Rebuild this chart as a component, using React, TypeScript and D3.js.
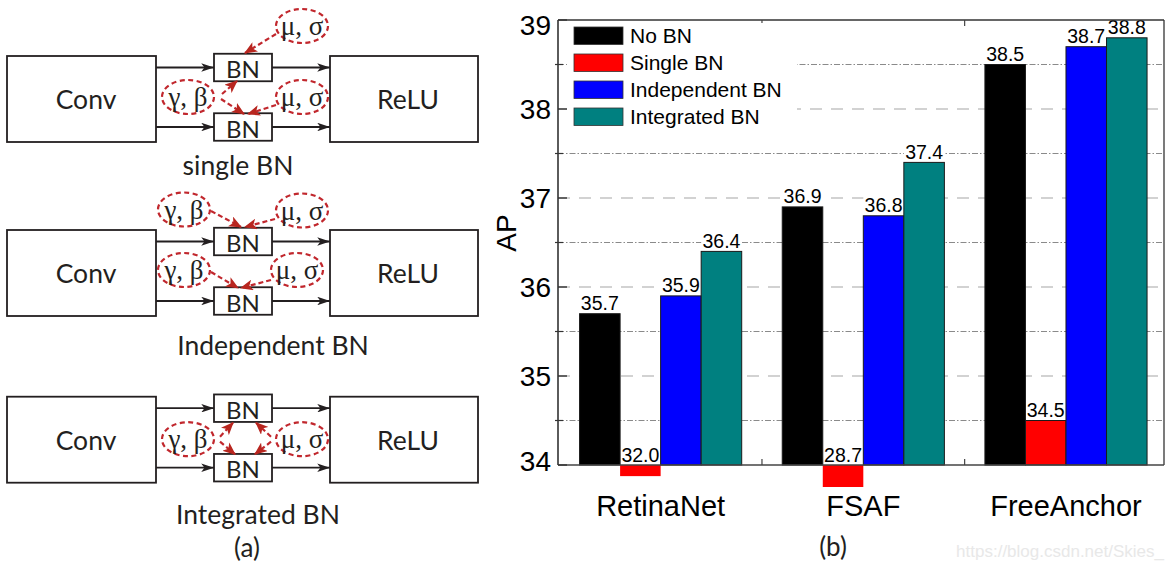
import React from "react";
import * as d3 from "d3";

// ---------------- Data (panel b) ----------------
const categories = ["RetinaNet", "FSAF", "FreeAnchor"];
const seriesNames = ["No BN", "Single BN", "Independent BN", "Integrated BN"];
const noBN = [35.7, 36.9, 38.5];
const singleBN = [32.0, 28.7, 34.5];
const independentBN = [35.9, 36.8, 38.7];
const integratedBN = [36.4, 37.4, 38.8];
const yMajorTicks = [34, 35, 36, 37, 38, 39];
const yMinorTicks = [34.5, 35.5, 36.5, 37.5, 38.5];
const seriesColors = ["#000000", "#ff0000", "#0000ff", "#008080"];
const watermark = "https://blog.csdn.net/Skies_";

// ---------------- Diagram text (panel a) ----------------
const panelCaptions = ["single BN", "Independent BN", "Integrated BN"];

const RED = "#c1272d";
const RED_HEAD = "#b8261f";
const INK = "#231f20";
const SANS = "Liberation Sans, Arial, sans-serif";
const DSANS = "Lato, 'Open Sans', sans-serif";
const SERIF = "'Liberation Serif', 'DejaVu Serif', serif";

function DashEllipse({ cx, cy, label }: { cx: number; cy: number; label: string }) {
  return (
    <g>
      <ellipse cx={cx} cy={cy} rx={26} ry={17} fill="none" stroke={RED} strokeWidth={2.2} strokeDasharray="5 3.5" />
      <text x={cx} y={cy} textAnchor="middle" dominantBaseline="central" fontFamily={SERIF} fontSize={27} fill={INK}>
        {label}
      </text>
    </g>
  );
}

function RedArrow({ x1, y1, x2, y2 }: { x1: number; y1: number; x2: number; y2: number }) {
  return (
    <line x1={x1} y1={y1} x2={x2} y2={y2} stroke={RED} strokeWidth={2.2} strokeDasharray="5 3" markerEnd="url(#redHead)" />
  );
}

function BlockRow({ T }: { T: number }) {
  const yTop = T + 11.5;
  const yBot = T + 71;
  const bnX = 214;
  const bnW = 58;
  const bnH = 27.5;
  return (
    <g>
      <rect x={7} y={T} width={149} height={86} fill="#fff" stroke={INK} strokeWidth={1.8} />
      <rect x={330} y={T} width={148} height={86} fill="#fff" stroke={INK} strokeWidth={1.8} />
      <text x={86} y={T + 43} textAnchor="middle" dominantBaseline="central" fontFamily={DSANS} fontSize={26.5} fill={INK}>Conv</text>
      <text x={408} y={T + 43} textAnchor="middle" dominantBaseline="central" fontFamily={DSANS} fontSize={26.5} fill={INK}>ReLU</text>
      {[yTop, yBot].map((yy, i) => (
        <g key={i}>
          <line x1={156} y1={yy} x2={bnX} y2={yy} stroke={INK} strokeWidth={1.8} markerEnd="url(#blackHead)" />
          <line x1={bnX + bnW} y1={yy} x2={330} y2={yy} stroke={INK} strokeWidth={1.8} markerEnd="url(#blackHead)" />
          <rect x={bnX} y={yy - bnH / 2} width={bnW} height={bnH} fill="#fff" stroke={INK} strokeWidth={1.8} />
          <text x={bnX + bnW / 2} y={yy + 1} textAnchor="middle" dominantBaseline="central" fontFamily={DSANS} fontSize={24} fill={INK}>BN</text>
        </g>
      ))}
    </g>
  );
}

function DiagramA() {
  const T1 = 56, T2 = 230, T3 = 396.7;
  return (
    <g>
      {/* single BN */}
      <BlockRow T={T1} />
      <DashEllipse cx={302} cy={T1 - 30} label="μ, σ" />
      <DashEllipse cx={188} cy={T1 + 41} label="γ, β" />
      <DashEllipse cx={302} cy={T1 + 41} label="μ, σ" />
      <RedArrow x1={276} y1={T1 - 22} x2={245} y2={T1 - 3} />
      <RedArrow x1={222} y1={T1 + 38} x2={237} y2={T1 + 25} />
      <RedArrow x1={221} y1={T1 + 43} x2={244} y2={T1 + 58} />
      <RedArrow x1={276} y1={T1 + 49} x2={248} y2={T1 + 58} />
      <text x={238} y={175} textAnchor="middle" fontFamily={DSANS} fontSize={26.5} fill={INK}>{panelCaptions[0]}</text>

      {/* Independent BN */}
      <BlockRow T={T2} />
      <DashEllipse cx={184} cy={T2 - 20.5} label="γ, β" />
      <DashEllipse cx={302} cy={T2 - 19.5} label="μ, σ" />
      <DashEllipse cx={184} cy={T2 + 40} label="γ, β" />
      <DashEllipse cx={297} cy={T2 + 40} label="μ, σ" />
      <RedArrow x1={211} y1={T2 - 19} x2={241} y2={T2 - 3} />
      <RedArrow x1={275} y1={T2 - 11} x2={245} y2={T2 - 3} />
      <RedArrow x1={211} y1={T2 + 42} x2={238} y2={T2 + 58} />
      <RedArrow x1={271} y1={T2 + 50} x2={241} y2={T2 + 58} />
      <text x={273} y={355} textAnchor="middle" fontFamily={DSANS} fontSize={26.5} fill={INK}>{panelCaptions[1]}</text>

      {/* Integrated BN */}
      <BlockRow T={T3} />
      <DashEllipse cx={188} cy={T3 + 42.5} label="γ, β" />
      <DashEllipse cx={302} cy={T3 + 42.5} label="μ, σ" />
      <RedArrow x1={220} y1={T3 + 40} x2={233} y2={T3 + 26} />
      <RedArrow x1={220} y1={T3 + 45} x2={235} y2={T3 + 57.5} />
      <RedArrow x1={271} y1={T3 + 40} x2={256} y2={T3 + 26} />
      <RedArrow x1={271} y1={T3 + 45} x2={255} y2={T3 + 57.5} />
      <text x={258} y={524} textAnchor="middle" fontFamily={DSANS} fontSize={26.5} fill={INK}>{panelCaptions[2]}</text>

      <text x={247} y={557} textAnchor="middle" fontFamily={DSANS} fontSize={26} fill={INK}>(a)</text>
    </g>
  );
}

function ChartB() {
  const left = 558, right = 1164, top = 20, bottom = 465;
  const y = d3.scaleLinear().domain([34, 39]).range([bottom, top]);
  const x0 = d3.scaleBand<string>().domain(categories).range([left, right]).paddingInner(0.2).paddingOuter(0.095).align(0.56);
  const x1 = d3.scaleBand<string>().domain(seriesNames).range([0, x0.bandwidth()]);
  const series = [noBN, singleBN, independentBN, integratedBN];
  const base = y.domain()[0];
  const minVal = d3.min(series.flat()) as number;
  const under = d3.scalePow().exponent(0.7).domain([0, base - minVal]).range([0, 22]);
  const fmt = d3.format(".1f");

  const bars: any[] = [];
  categories.forEach((c, ci) => {
    seriesNames.forEach((s, si) => {
      const v = series[si][ci];
      const bx = (x0(c) as number) + (x1(s) as number);
      const bw = x1.bandwidth();
      const above = v >= base;
      const by = above ? y(v) : y(base);
      const bh = above ? y(base) - y(v) : under(base - v);
      bars.push({ key: c + s, v, bx, bw, by, bh, above, color: seriesColors[si], labelTop: above ? y(v) : y(base) });
    });
  });

  const boundaries = categories.slice(0, -1).map((c, i) => ((x0(c) as number) + x0.bandwidth() + (x0(categories[i + 1]) as number)) / 2);

  return (
    <g>
      {/* grid */}
      {yMinorTicks.map((t) => (
        <line key={"mi" + t} x1={left} x2={right} y1={y(t)} y2={y(t)} stroke="#8a8a8a" strokeWidth={1} strokeDasharray="6 2 1.5 2" />
      ))}
      {yMajorTicks.filter((t) => t !== 34 && t !== 39).map((t) => (
        <line key={"ma" + t} x1={left} x2={right} y1={y(t)} y2={y(t)} stroke="#c4c4c4" strokeWidth={1.6} strokeDasharray="12 9" />
      ))}
      {/* label backgrounds */}
      {bars.map((b) => (
        <rect key={"bg" + b.key} x={b.bx} y={b.labelTop - 19} width={b.bw} height={18.5} fill="#fff" />
      ))}
      {/* bars */}
      {bars.map((b) => (
        <rect key={b.key} x={b.bx} y={b.by} width={b.bw} height={b.bh} fill={b.color} stroke={b.above ? "#1a1a1a" : "none"} strokeWidth={1} />
      ))}
      {/* value labels */}
      {bars.map((b) => (
        <text key={"t" + b.key} x={b.bx + b.bw / 2} y={b.labelTop - 3.5} textAnchor="middle" fontFamily={SANS} fontSize={19.5} fill="#000">
          {fmt(b.v)}
        </text>
      ))}
      {/* frame */}
      <line x1={left} x2={right} y1={top} y2={top} stroke="#333" strokeWidth={1.3} />
      <line x1={right} x2={right} y1={top} y2={bottom} stroke="#333" strokeWidth={1.3} />
      <line x1={left} x2={right} y1={bottom} y2={bottom} stroke="#444" strokeWidth={1.4} />
      <line x1={left} x2={left} y1={top} y2={bottom} stroke="#333" strokeWidth={1.6} />
      {/* ticks */}
      {yMajorTicks.map((t) => (
        <g key={"yt" + t}>
          <line x1={left} x2={left + 9} y1={y(t)} y2={y(t)} stroke="#333" strokeWidth={1.4} />
          <text x={551} y={y(t)} dy={t === 39 ? "0.55em" : t === 34 ? "0.2em" : "0.35em"} textAnchor="end" fontFamily={SANS} fontSize={28} fill="#000">{t}</text>
        </g>
      ))}
      {yMinorTicks.map((t) => (
        <line key={"ymt" + t} x1={left - 3} x2={left + 5} y1={y(t)} y2={y(t)} stroke="#333" strokeWidth={1.2} />
      ))}
      {boundaries.map((bx, i) => (
        <g key={"xb" + i}>
          <line x1={bx} x2={bx} y1={bottom} y2={bottom - 6} stroke="#444" strokeWidth={1.2} />
          <line x1={bx} x2={bx} y1={top} y2={top + 6} stroke="#444" strokeWidth={1.2} />
        </g>
      ))}
      {categories.map((c) => (
        <text key={"xl" + c} x={(x0(c) as number) + x0.bandwidth() / 2} y={516} textAnchor="middle" fontFamily={SANS} fontSize={29} fill="#000">
          {c}
        </text>
      ))}
      <text transform="translate(516,233) rotate(-90)" textAnchor="middle" fontFamily={SANS} fontSize={28} fill="#000">AP</text>
      {/* legend */}
      <rect x={567} y={23} width={230} height={108} fill="#fff" />
      {seriesNames.map((s, i) => (
        <g key={"lg" + s}>
          <rect x={574} y={27 + i * 27} width={49} height={17.5} fill={seriesColors[i]} stroke="#333" strokeWidth={0.8} />
          <text x={630} y={43 + i * 27} fontFamily={SANS} fontSize={21} fill="#000">{s}</text>
        </g>
      ))}
      <text x={833} y={556} textAnchor="middle" fontFamily={DSANS} fontSize={26} fill={INK}>(b)</text>
      <text x={1164} y={557} textAnchor="end" fontFamily={SANS} fontSize={17} fill="#e8e8e8">{watermark}</text>
    </g>
  );
}

export default function App() {
  return (
    <div>
      <style>{`body{margin:0;background:#fff}`}</style>
      <svg width={1172} height={571} style={{ display: "block", background: "#fff" }}>
        <defs>
          <marker id="redHead" viewBox="0 0 12 10" refX={11} refY={5} markerWidth={13} markerHeight={11} markerUnits="userSpaceOnUse" orient="auto">
            <path d="M0,0 L12,5 L0,10 L3,5 Z" fill={RED_HEAD} />
          </marker>
          <marker id="blackHead" viewBox="0 0 12 8" refX={12} refY={4} markerWidth={13} markerHeight={8.5} markerUnits="userSpaceOnUse" orient="auto">
            <path d="M0,0 L12,4 L0,8 L3,4 Z" fill={INK} />
          </marker>
        </defs>
        <DiagramA />
        <ChartB />
      </svg>
    </div>
  );
}
